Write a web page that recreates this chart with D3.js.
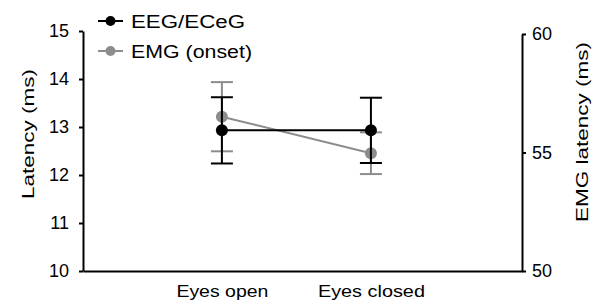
<!DOCTYPE html>
<html>
<head>
<meta charset="utf-8">
<script src="https://cdn.jsdelivr.net/npm/d3@7"></script>
<style>
  body { margin: 0; background: #fff; }
  svg text { font-family: "Liberation Sans", Arial, sans-serif; fill: #000; }
</style>
</head>
<body>
<div id="chart"></div>
<script>
// data
const categories = ['Eyes open', 'Eyes closed'];
const eegMean = [12.93, 12.93];
const eegErr = [0.69, 0.68];
const emgMean = [56.51, 54.97];
const emgErr = [1.46, 0.88];
const leftTicks = [10, 11, 12, 13, 14, 15];
const rightTicks = [50, 55, 60];
const seriesNames = ['EEG/ECeG', 'EMG (onset)'];

const width = 599, height = 307;
const black = '#000', grey = '#8c8c8c';

const svg = d3.select('#chart').append('svg')
  .attr('width', width)
  .attr('height', height);

// scales
const x = d3.scalePoint().domain(categories).range([83, 522]).padding(0.973).align(0.479);
const yL = d3.scaleLinear().domain([10, 15]).range([271, 31]);
const yR = d3.scaleLinear().domain([50, 60]).range([271, 34]);

// axes
const leftAxis = svg.append('g')
  .attr('transform', 'translate(83,0)')
  .call(d3.axisLeft(yL).tickValues(leftTicks).tickFormat(d3.format('d'))
    .tickSize(4).tickSizeOuter(0).tickPadding(10));

const rightAxis = svg.append('g')
  .attr('transform', 'translate(522,0)')
  .call(d3.axisRight(yR).tickValues(rightTicks).tickFormat(d3.format('d'))
    .tickSize(4).tickSizeOuter(0).tickPadding(6));

const bottomAxis = svg.append('g')
  .attr('transform', 'translate(0,271)')
  .call(d3.axisBottom(x).tickSize(0).tickSizeOuter(0).tickPadding(15));

[leftAxis, rightAxis, bottomAxis].forEach(function(a) {
  a.select('.domain').attr('stroke', black).attr('stroke-width', 2);
  a.selectAll('.tick line').attr('stroke', black).attr('stroke-width', 2);
  a.selectAll('text').attr('font-size', 18).attr('font-family', '"Liberation Sans", Arial, sans-serif');
});
bottomAxis.selectAll('text').attr('font-size', 16);
// stretch the category labels to the reference widths
const catLength = { 'Eyes open': 92, 'Eyes closed': 107 };
bottomAxis.selectAll('.tick text')
  .attr('textLength', function(d) { return catLength[d]; })
  .attr('lengthAdjust', 'spacingAndGlyphs');

// axis titles
svg.append('text')
  .attr('transform', 'translate(34,134) rotate(-90)')
  .attr('text-anchor', 'middle')
  .attr('font-size', 16)
  .attr('textLength', 130)
  .attr('lengthAdjust', 'spacingAndGlyphs')
  .text('Latency (ms)');

svg.append('text')
  .attr('transform', 'translate(588,132) rotate(-90)')
  .attr('text-anchor', 'middle')
  .attr('font-size', 16)
  .attr('textLength', 180)
  .attr('lengthAdjust', 'spacingAndGlyphs')
  .text('EMG latency (ms)');

// one series: error bars, connecting line, markers
function drawSeries(mean, err, y, color) {
  const g = svg.append('g');
  const rows = categories.map(function(c, i) { return { c: c, m: mean[i], e: err[i] }; });

  g.selectAll('.stem').data(rows).enter().append('line')
    .attr('x1', function(d) { return x(d.c); })
    .attr('x2', function(d) { return x(d.c); })
    .attr('y1', function(d) { return y(d.m - d.e); })
    .attr('y2', function(d) { return y(d.m + d.e); })
    .attr('stroke', color).attr('stroke-width', 2);

  ['lo', 'hi'].forEach(function(side) {
    g.selectAll('.cap-' + side).data(rows).enter().append('line')
      .attr('x1', function(d) { return x(d.c) - 11; })
      .attr('x2', function(d) { return x(d.c) + 11; })
      .attr('y1', function(d) { return y(side === 'lo' ? d.m - d.e : d.m + d.e); })
      .attr('y2', function(d) { return y(side === 'lo' ? d.m - d.e : d.m + d.e); })
      .attr('stroke', color).attr('stroke-width', 2);
  });

  g.append('path')
    .datum(rows)
    .attr('fill', 'none')
    .attr('stroke', color)
    .attr('stroke-width', 2)
    .attr('d', d3.line().x(function(d) { return x(d.c); }).y(function(d) { return y(d.m); }));

  g.selectAll('circle').data(rows).enter().append('circle')
    .attr('cx', function(d) { return x(d.c); })
    .attr('cy', function(d) { return y(d.m); })
    .attr('r', 6)
    .attr('fill', color);
}

drawSeries(emgMean, emgErr, yR, grey);
drawSeries(eegMean, eegErr, yL, black);

// legend
const legendColors = [black, grey];
const legendLength = [114, 121];
const legend = svg.append('g').attr('transform', 'translate(98,21)');
seriesNames.forEach(function(name, i) {
  const row = legend.append('g').attr('transform', 'translate(0,' + (i * 30) + ')');
  row.append('line').attr('x1', 0).attr('x2', 25).attr('y1', 0).attr('y2', 0)
    .attr('stroke', legendColors[i]).attr('stroke-width', 2);
  row.append('circle').attr('cx', 12.5).attr('cy', 0).attr('r', 5).attr('fill', legendColors[i]);
  row.append('text')
    .attr('x', 33)
    .attr('y', 7)
    .attr('font-size', 18)
    .attr('textLength', legendLength[i])
    .attr('lengthAdjust', 'spacingAndGlyphs')
    .text(name);
});
</script>
</body>
</html>
